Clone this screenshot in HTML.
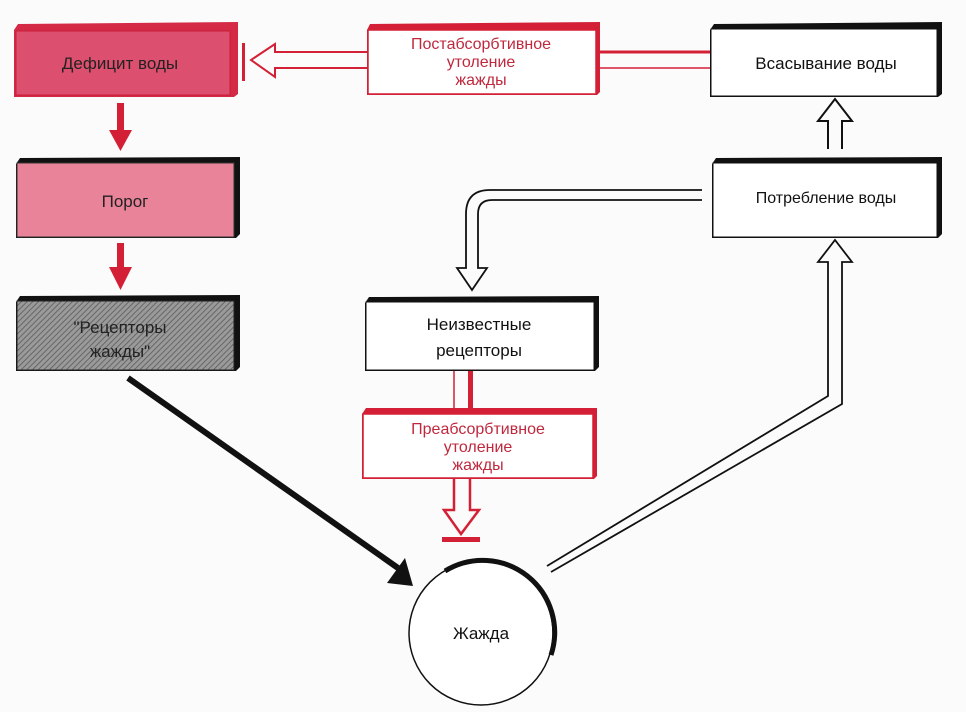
<!DOCTYPE html>
<html><head><meta charset="utf-8"><style>
html,body{margin:0;padding:0;background:#fbfbfb;}
svg{display:block;}
text{font-family:"Liberation Sans","DejaVu Sans",sans-serif;}
</style></head><body>
<svg width="966" height="712" viewBox="0 0 966 712" xmlns="http://www.w3.org/2000/svg">
<defs>
<pattern id="hatch" width="4" height="4" patternUnits="userSpaceOnUse" patternTransform="rotate(45)">
<rect width="4" height="4" fill="#9a9a9a"/><line x1="0" y1="0" x2="0" y2="4" stroke="#5a5a5a" stroke-width="1.6"/>
</pattern>
</defs>
<rect width="966" height="712" fill="#fbfbfb"/>

<polygon points="18,24 238,22 238,94 234,97 14,97 14,30" fill="#d42a45"/>
<rect x="16" y="31" width="214" height="64" fill="#dd4f6e" stroke="#c81e3a" stroke-width="1"/>
<text x="120" y="69" font-size="17" text-anchor="middle" fill="#222">Дефицит воды</text>

<polygon points="20,158 240,157 240,234 236,238 16,238 16,164" fill="#111"/>
<rect x="17" y="163" width="217" height="74" fill="#e9839a" stroke="#333" stroke-width="1"/>
<text x="125" y="207" font-size="17" text-anchor="middle" fill="#222">Порог</text>

<polygon points="20,296 240,295 240,367 236,371 16,371 16,302" fill="#111"/>
<rect x="17" y="301" width="217" height="69" fill="url(#hatch)" stroke="#222" stroke-width="1"/>
<text x="120" y="333" font-size="17" text-anchor="middle" fill="#222">"Рецепторы</text>
<text x="120" y="357" font-size="17" text-anchor="middle" fill="#222">жажды"</text>

<rect x="117" y="103" width="7" height="30" fill="#d42036"/>
<polygon points="109,130 132,130 120.5,151" fill="#d42036"/>
<rect x="117" y="243" width="7" height="27" fill="#d42036"/>
<polygon points="109,267 132,267 120.5,290" fill="#d42036"/>

<polygon points="370,24 600,22 600,92 597,95 367,95 367,30" fill="#d42036"/>
<rect x="368" y="30" width="228" height="64" fill="#fff" stroke="#d42036" stroke-width="1.5"/>
<text x="481" y="49" font-size="16" text-anchor="middle" fill="#c0283e">Постабсорбтивное</text>
<text x="481" y="67" font-size="16" text-anchor="middle" fill="#c0283e">утоление</text>
<text x="481" y="85" font-size="16" text-anchor="middle" fill="#c0283e">жажды</text>
<line x1="598" y1="52" x2="712" y2="52" stroke="#d42036" stroke-width="3"/>
<line x1="598" y1="68" x2="712" y2="68" stroke="#d42036" stroke-width="1.5"/>
<polyline points="367,52 275,52 275,44 251,60 275,77 275,68 367,68" fill="none" stroke="#d42036" stroke-width="2"/>
<rect x="242" y="43" width="3" height="38" fill="#d42036"/>

<polygon points="714,24 942,22 942,94 938,97 710,97 710,30" fill="#111"/>
<rect x="711" y="29" width="226" height="67" fill="#fff" stroke="#111" stroke-width="1"/>
<text x="826" y="69" font-size="17" text-anchor="middle" fill="#111">Всасывание воды</text>

<polygon points="716,158 942,157 942,234 938,238 712,238 712,164" fill="#111"/>
<rect x="713" y="163" width="224" height="74" fill="#fff" stroke="#111" stroke-width="1"/>
<text x="826" y="203" font-size="16" text-anchor="middle" fill="#111">Потребление воды</text>

<polyline points="828,149 828,121 818,121 835,99 852,121 842,121 842,149" fill="none" stroke="#111" stroke-width="2"/>

<path d="M702,190 L490,190 Q466,190 466,214 L466,268 L457,268 L472,290 L487,268 L478,268 L478,214 Q478,200 492,200 L702,200" fill="none" stroke="#111" stroke-width="1.8"/>

<polygon points="369,297 599,296 599,367 595,371 365,371 365,303" fill="#111"/>
<rect x="366" y="302" width="228" height="68" fill="#fff" stroke="#111" stroke-width="1"/>
<text x="479" y="330" font-size="17" text-anchor="middle" fill="#111">Неизвестные</text>
<text x="479" y="356" font-size="17" text-anchor="middle" fill="#111">рецепторы</text>

<line x1="454" y1="371" x2="454" y2="409" stroke="#d42036" stroke-width="1.5"/>
<rect x="468" y="371" width="5" height="38" fill="#d42036"/>
<polygon points="366,408 597,408 597,476 594,479 362,479 362,414" fill="#d42036"/>
<rect x="363" y="414" width="230" height="64" fill="#fff" stroke="#d42036" stroke-width="1.5"/>
<text x="478" y="434" font-size="16" text-anchor="middle" fill="#c0283e">Преабсорбтивное</text>
<text x="478" y="452" font-size="16" text-anchor="middle" fill="#c0283e">утоление</text>
<text x="478" y="470" font-size="16" text-anchor="middle" fill="#c0283e">жажды</text>
<polyline points="454,479 454,510 444,510 461,534 479,510 470,510 470,479" fill="none" stroke="#d42036" stroke-width="2.5"/>
<rect x="442" y="537" width="38" height="5" fill="#d42036"/>

<line x1="128" y1="378" x2="398" y2="568" stroke="#111" stroke-width="6"/>
<polygon points="413,586 387,583 405,558" fill="#111"/>

<circle cx="481" cy="633" r="72" fill="#fff" stroke="#111" stroke-width="1.5"/>
<path d="M445,571 A72,72 0 0 1 551,655" fill="none" stroke="#111" stroke-width="5"/>
<text x="481" y="639" font-size="17" text-anchor="middle" fill="#111">Жажда</text>

<polyline points="547,566 828,396 828,262 818,262 835,240 852,262 842,262 842,404 551,572" fill="none" stroke="#111" stroke-width="1.8"/>
</svg>
</body></html>
